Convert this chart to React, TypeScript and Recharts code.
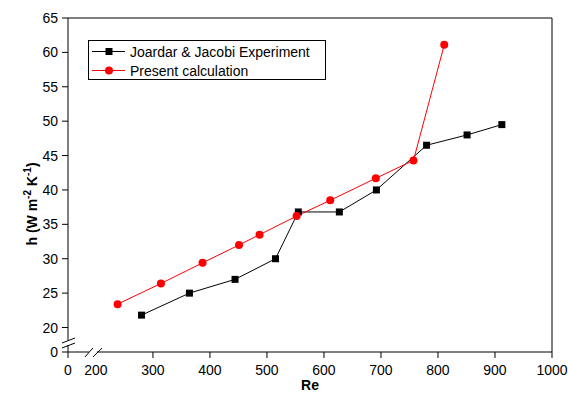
import React from "react";
import { LineChart, Line, XAxis, YAxis, Legend, ReferenceLine } from "recharts";

// Joardar & Jacobi experiment
const joardarRe = [280, 364, 444, 515, 555, 627, 692, 780, 851, 912];
const joardarH = [21.8, 25, 27, 30, 36.8, 36.8, 40, 46.5, 48, 49.5];

// present calculation
const presentRe = [238, 314, 387, 451, 487, 552, 611, 691, 757, 811];
const presentH = [23.4, 26.4, 29.4, 32.0, 33.5, 36.2, 38.5, 41.7, 44.3, 61.1];

// broken axes: the "0" tick sits at these positions
const X_BREAK = 151;
const Y_BREAK = 16.44;
const xTicks = [X_BREAK, 200, 300, 400, 500, 600, 700, 800, 900, 1000];
const yTicks = [Y_BREAK, 20, 25, 30, 35, 40, 45, 50, 55, 60, 65];

const joardar = joardarRe.map((re, i) => ({ re, h: joardarH[i] }));
const present = presentRe.map((re, i) => ({ re, h: presentH[i] }));

const FONT = "'Liberation Sans', Arial, Helvetica, sans-serif";

const XTick = (props: any) => {
  const { x, y, payload } = props;
  const v = payload.value;
  if (v === 200) {
    return (
      <g>
        <rect x={x - 7} y={y - 1.5} width={8} height={3} fill="#fff" />
        <line x1={x - 11} y1={y + 5} x2={x - 3} y2={y - 4} stroke="#000" />
        <line x1={x - 3} y1={y + 5} x2={x + 6} y2={y - 4} stroke="#000" />
        <text x={x} y={y + 23} textAnchor="middle" fontSize={14} fontFamily={FONT} fill="#000">
          200
        </text>
      </g>
    );
  }
  return (
    <g>
      <line x1={x} y1={y} x2={x} y2={y + 6} stroke="#000" />
      <text x={x} y={y + 23} textAnchor="middle" fontSize={14} fontFamily={FONT} fill="#000">
        {v === X_BREAK ? "0" : v}
      </text>
    </g>
  );
};

const YTick = (props: any) => {
  const { x, y, payload } = props;
  const v = payload.value;
  return (
    <g>
      {v === Y_BREAK && (
        <g>
          <rect x={x - 2} y={y - 12} width={4} height={5} fill="#fff" />
          <line x1={x - 6} y1={y - 9} x2={x + 7} y2={y - 14} stroke="#000" />
          <line x1={x - 6} y1={y - 4} x2={x + 7} y2={y - 9} stroke="#000" />
        </g>
      )}
      <line x1={x - 6} y1={y} x2={x} y2={y} stroke="#000" />
      <text x={x - 10} y={y + 5} textAnchor="end" fontSize={14} fontFamily={FONT} fill="#000">
        {v === Y_BREAK ? "0" : v}
      </text>
    </g>
  );
};

const SquareDot = (props: any) => {
  const { cx, cy, index } = props;
  return <rect key={index} x={cx - 3.5} y={cy - 3.5} width={7} height={7} fill="#000" />;
};

const renderLegend = () => {
  const row = (label: string, color: string, square: boolean) => (
    <div style={{ display: "flex", alignItems: "center", height: 19 }}>
      <svg width={40} height={19}>
        <line x1={3} y1={9.5} x2={36} y2={9.5} stroke={color} />
        {square ? (
          <rect x={16.5} y={6} width={7} height={7} fill={color} />
        ) : (
          <circle cx={20} cy={9.5} r={4} fill={color} />
        )}
      </svg>
      <span style={{ fontSize: 14, fontFamily: FONT, color: "#000", marginLeft: 1 }}>{label}</span>
    </div>
  );
  return (
    <div
      style={{
        border: "1px solid #000",
        width: 236,
        height: 37,
        boxSizing: "content-box",
        paddingTop: 1,
        background: "#fff",
      }}
    >
      {row("Joardar & Jacobi Experiment", "#000", true)}
      {row("Present calculation", "#ff0000", false)}
    </div>
  );
};

export default function App() {
  return (
    <div style={{ position: "absolute", left: 0, top: 0, width: 568, height: 394, background: "#fff" }}>
      <LineChart width={568} height={394} margin={{ top: 18, right: 16, bottom: 12, left: 0 }}>
        <XAxis
          dataKey="re"
          type="number"
          domain={[X_BREAK, 1000]}
          ticks={xTicks}
          interval={0}
          allowDataOverflow
          height={30}
          tickSize={0}
          tickMargin={0}
          tickLine={false}
          tick={<XTick />}
          axisLine={{ stroke: "#000" }}
          label={{
            content: (p: any) => (
              <text
                x={p.viewBox.x + p.viewBox.width / 2}
                y={390}
                textAnchor="middle"
                fontSize={14}
                fontWeight="bold"
                fontFamily={FONT}
                fill="#000"
              >
                Re
              </text>
            ),
          }}
        />
        <YAxis
          type="number"
          domain={[Y_BREAK, 65]}
          ticks={yTicks}
          interval={0}
          allowDataOverflow
          width={68}
          tickSize={0}
          tickMargin={0}
          tickLine={false}
          tick={<YTick />}
          axisLine={{ stroke: "#000" }}
          label={{
            content: (p: any) => {
              const cy = p.viewBox.y + p.viewBox.height / 2 + 19;
              return (
                <text
                  x={36.5}
                  y={cy}
                  transform={`rotate(-90, 36.5, ${cy})`}
                  textAnchor="middle"
                  fontSize={14}
                  fontWeight="bold"
                  fontFamily={FONT}
                  fill="#000"
                >
                  h (W m
                  <tspan dy={-6} fontSize={10}>-2</tspan>
                  <tspan dy={6}> K</tspan>
                  <tspan dy={-6} fontSize={10}>-1</tspan>
                  <tspan dy={6}>)</tspan>
                </text>
              );
            },
          }}
        />
        <ReferenceLine y={65} stroke="#000" strokeWidth={1} />
        <ReferenceLine x={1000} stroke="#000" strokeWidth={1} />
        <Legend
          layout="vertical"
          align="center"
          verticalAlign="middle"
          content={renderLegend}
          wrapperStyle={{ left: 88, top: 40, width: 238, height: 39 }}
        />
        <Line
          data={joardar}
          dataKey="h"
          name="Joardar & Jacobi Experiment"
          stroke="#000"
          strokeWidth={1}
          dot={<SquareDot />}
          activeDot={false}
          isAnimationActive={false}
        />
        <Line
          data={present}
          dataKey="h"
          name="Present calculation"
          stroke="#ff0000"
          strokeWidth={1}
          dot={{ r: 4, fill: "#ff0000", stroke: "#ff0000", strokeWidth: 0 }}
          activeDot={false}
          isAnimationActive={false}
        />
      </LineChart>
    </div>
  );
}
